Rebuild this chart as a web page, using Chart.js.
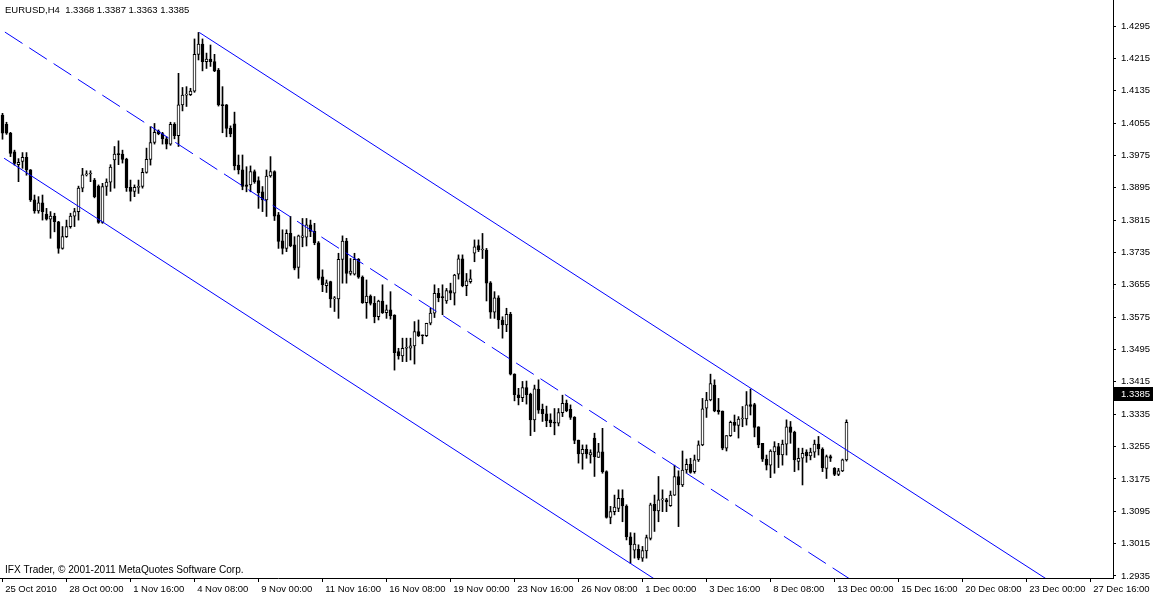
<!DOCTYPE html>
<html><head><meta charset="utf-8">
<script src="https://cdn.jsdelivr.net/npm/chart.js@4.4.0/dist/chart.umd.min.js"></script>
<style>
html,body{margin:0;padding:0;background:#fff;overflow:hidden}
canvas{display:block}
</style></head><body>
<canvas id="c" width="1153" height="596"></canvas>
<script>
const headerText = "EURUSD,H4  1.3368 1.3387 1.3363 1.3385";
const footerText = "IFX Trader, \u00A9 2001-2011 MetaQuotes Software Corp.";
const lastPrice = 1.3385;

const opens = [
1.4075,1.4052,1.4030,1.3984,1.3952,1.3960,1.3970,1.3939,1.3865,1.3838,
1.3858,1.3830,1.3817,1.3825,1.3811,1.3745,1.3774,1.3799,1.3825,1.3836,
1.3894,1.3927,1.3929,1.3914,1.3899,1.3809,1.3898,1.3909,1.3964,1.3978,
1.3978,1.3966,1.3896,1.3886,1.3896,1.3898,1.3933,1.3965,1.4007,1.4035,
1.4029,1.4016,1.4003,1.4052,1.4024,1.4100,1.4124,1.4125,1.4134,1.4225,
1.4250,1.4207,1.4213,1.4207,1.4186,1.4100,1.4100,1.4042,1.4053,1.3951,
1.3939,1.3902,1.3902,1.3935,1.3913,1.3885,1.3865,1.3924,1.3935,1.3828,
1.3764,1.3745,1.3782,1.3754,1.3698,1.3772,1.3773,1.3803,1.3787,1.3759,
1.3675,1.3653,1.3663,1.3620,1.3620,1.3718,1.3763,1.3683,1.3681,1.3718,
1.3674,1.3611,1.3627,1.3609,1.3576,1.3615,1.3586,1.3593,1.3580,1.3490,
1.3479,1.3498,1.3498,1.3504,1.3539,1.3531,1.3529,1.3560,1.3585,1.3634,
1.3626,1.3615,1.3641,1.3634,1.3681,1.3719,1.3653,1.3663,1.3733,1.3752,
1.3741,1.3741,1.3660,1.3587,1.3623,1.3568,1.3556,1.3582,1.3434,1.3383,
1.3376,1.3401,1.3384,1.3321,1.3397,1.3347,1.3336,1.3321,1.3314,1.3313,
1.3339,1.3362,1.3347,1.3327,1.3271,1.3237,1.3248,1.3234,1.3276,1.3228,
1.3242,1.3193,1.3080,1.3094,1.3102,1.3127,1.3108,1.3032,1.2999,1.3001,
1.2979,1.2997,1.3028,1.3112,1.3096,1.3123,1.3123,1.3109,1.3135,1.3181,
1.3160,1.3197,1.3211,1.3193,1.3222,1.3259,1.3350,1.3370,1.3407,1.3345,
1.3343,1.3251,1.3282,1.3315,1.3307,1.3323,1.3323,1.3359,1.3359,1.3304,
1.3263,1.3224,1.3209,1.3242,1.3255,1.3234,1.3261,1.3304,1.3290,1.3218,
1.3226,1.3241,1.3232,1.3241,1.3261,1.3249,1.3201,1.3230,1.3201,1.3186,
1.3195,1.3222];

const highs = [
1.4079,1.4057,1.4032,1.3988,1.3967,1.3982,1.3982,1.3940,1.3877,1.3873,
1.3877,1.3844,1.3836,1.3832,1.3812,1.3799,1.3815,1.3832,1.3844,1.3899,
1.3943,1.3937,1.3937,1.3918,1.3902,1.3906,1.3917,1.3952,1.3997,1.4011,
1.3988,1.3968,1.3914,1.3902,1.3914,1.3943,1.3993,1.4046,1.4054,1.4038,
1.4032,1.4021,1.4057,1.4056,1.4178,1.4143,1.4145,1.4141,1.4263,1.4279,
1.4263,1.4228,1.4248,1.4225,1.4190,1.4145,1.4101,1.4048,1.4082,1.3976,
1.3976,1.3947,1.3949,1.3939,1.3922,1.3898,1.3939,1.3972,1.3937,1.3834,
1.3791,1.3791,1.3824,1.3774,1.3778,1.3819,1.3819,1.3815,1.3807,1.3762,
1.3692,1.3667,1.3664,1.3626,1.3733,1.3776,1.3770,1.3720,1.3733,1.3720,
1.3677,1.3667,1.3630,1.3626,1.3617,1.3655,1.3605,1.3638,1.3581,1.3498,
1.3523,1.3523,1.3523,1.3564,1.3568,1.3531,1.3560,1.3597,1.3655,1.3646,
1.3655,1.3646,1.3659,1.3681,1.3729,1.3729,1.3683,1.3692,1.3766,1.3766,
1.3782,1.3745,1.3663,1.3638,1.3628,1.3576,1.3597,1.3587,1.3435,1.3399,
1.3416,1.3417,1.3387,1.3407,1.3420,1.3360,1.3355,1.3336,1.3349,1.3349,
1.3382,1.3370,1.3358,1.3329,1.3271,1.3259,1.3259,1.3247,1.3288,1.3263,
1.3300,1.3195,1.3107,1.3135,1.3148,1.3148,1.3111,1.3042,1.3041,1.3012,
1.3008,1.3036,1.3115,1.3135,1.3181,1.3148,1.3127,1.3145,1.3209,1.3195,
1.3244,1.3224,1.3226,1.3234,1.3269,1.3374,1.3389,1.3434,1.3420,1.3374,
1.3343,1.3282,1.3318,1.3333,1.3329,1.3354,1.3391,1.3397,1.3362,1.3304,
1.3263,1.3234,1.3247,1.3267,1.3263,1.3271,1.3321,1.3317,1.3293,1.3251,
1.3251,1.3247,1.3251,1.3271,1.3280,1.3252,1.3234,1.3234,1.3203,1.3201,
1.3224,1.3321];

const lows = [
1.4015,1.4027,1.3972,1.3951,1.3910,1.3943,1.3926,1.3861,1.3832,1.3832,
1.3815,1.3815,1.3770,1.3786,1.3733,1.3743,1.3772,1.3795,1.3799,1.3815,
1.3885,1.3924,1.3910,1.3870,1.3807,1.3807,1.3876,1.3886,1.3894,1.3952,
1.3956,1.3886,1.3862,1.3873,1.3881,1.3894,1.3931,1.3951,1.4003,1.4026,
1.4003,1.3991,1.4000,1.4016,1.3997,1.4085,1.4096,1.4123,1.4131,1.4211,
1.4184,1.4190,1.4195,1.4182,1.4097,1.4031,1.4021,1.4021,1.3939,1.3929,
1.3890,1.3885,1.3885,1.3906,1.3844,1.3836,1.3824,1.3921,1.3814,1.3745,
1.3731,1.3737,1.3749,1.3692,1.3671,1.3749,1.3751,1.3774,1.3754,1.3667,
1.3638,1.3636,1.3599,1.3589,1.3572,1.3659,1.3659,1.3679,1.3679,1.3671,
1.3609,1.3572,1.3605,1.3561,1.3568,1.3584,1.3572,1.3570,1.3444,1.3471,
1.3465,1.3465,1.3469,1.3459,1.3527,1.3509,1.3527,1.3556,1.3574,1.3613,
1.3581,1.3609,1.3618,1.3605,1.3669,1.3650,1.3628,1.3659,1.3712,1.3737,
1.3720,1.3615,1.3572,1.3572,1.3547,1.3523,1.3539,1.3432,1.3368,1.3358,
1.3366,1.3360,1.3282,1.3292,1.3337,1.3317,1.3304,1.3304,1.3284,1.3306,
1.3329,1.3341,1.3322,1.3262,1.3214,1.3199,1.3226,1.3214,1.3181,1.3228,
1.3189,1.3078,1.3064,1.3086,1.3094,1.3069,1.3024,1.2966,1.2979,1.2975,
1.2971,1.2979,1.3024,1.3045,1.3069,1.3094,1.3094,1.3107,1.3134,1.3057,
1.3156,1.3189,1.3189,1.3189,1.3218,1.3257,1.3327,1.3368,1.3341,1.3335,
1.3247,1.3244,1.3280,1.3292,1.3276,1.3304,1.3308,1.3333,1.3279,1.3252,
1.3218,1.3197,1.3178,1.3189,1.3203,1.3209,1.3234,1.3263,1.3193,1.3197,
1.3160,1.3216,1.3222,1.3228,1.3234,1.3193,1.3176,1.3218,1.3183,1.3183,
1.3193,1.3219];

const closes = [
1.4030,1.4030,1.3980,1.3955,1.3958,1.3970,1.3939,1.3865,1.3838,1.3858,
1.3836,1.3817,1.3825,1.3811,1.3745,1.3774,1.3799,1.3825,1.3836,1.3894,
1.3927,1.3929,1.3930,1.3873,1.3809,1.3898,1.3909,1.3946,1.3978,1.3977,
1.3965,1.3895,1.3886,1.3896,1.3897,1.3933,1.3965,1.4007,1.4032,1.4029,
1.4016,1.4003,1.4052,1.4024,1.4100,1.4124,1.4125,1.4134,1.4225,1.4250,
1.4207,1.4213,1.4207,1.4184,1.4100,1.4098,1.4042,1.4028,1.3949,1.3939,
1.3898,1.3898,1.3935,1.3910,1.3883,1.3865,1.3924,1.3935,1.3825,1.3762,
1.3745,1.3782,1.3751,1.3696,1.3776,1.3776,1.3803,1.3787,1.3759,1.3671,
1.3655,1.3660,1.3620,1.3620,1.3718,1.3763,1.3683,1.3689,1.3718,1.3674,
1.3611,1.3627,1.3609,1.3576,1.3615,1.3586,1.3593,1.3578,1.3487,1.3479,
1.3498,1.3498,1.3504,1.3539,1.3529,1.3529,1.3560,1.3585,1.3634,1.3623,
1.3623,1.3641,1.3634,1.3679,1.3719,1.3653,1.3665,1.3670,1.3749,1.3741,
1.3741,1.3659,1.3587,1.3623,1.3568,1.3556,1.3582,1.3434,1.3383,1.3376,
1.3401,1.3383,1.3321,1.3398,1.3345,1.3336,1.3319,1.3314,1.3313,1.3339,
1.3362,1.3344,1.3327,1.3270,1.3237,1.3248,1.3237,1.3240,1.3230,1.3242,
1.3193,1.3080,1.3094,1.3105,1.3127,1.3108,1.3032,1.3012,1.3014,1.2979,
1.2998,1.3030,1.3111,1.3096,1.3123,1.3123,1.3118,1.3135,1.3181,1.3160,
1.3197,1.3211,1.3191,1.3222,1.3259,1.3348,1.3370,1.3411,1.3343,1.3341,
1.3251,1.3282,1.3315,1.3307,1.3323,1.3325,1.3358,1.3354,1.3302,1.3259,
1.3224,1.3209,1.3244,1.3255,1.3234,1.3261,1.3304,1.3290,1.3222,1.3226,
1.3238,1.3232,1.3241,1.3261,1.3249,1.3203,1.3230,1.3226,1.3186,1.3195,
1.3222,1.3315];

const timeLabels = ["25 Oct 2010","28 Oct 00:00","1 Nov 16:00","4 Nov 08:00","9 Nov 00:00",
"11 Nov 16:00","16 Nov 08:00","19 Nov 00:00","23 Nov 16:00","26 Nov 08:00","1 Dec 00:00",
"3 Dec 16:00","8 Dec 08:00","13 Dec 00:00","15 Dec 16:00","20 Dec 08:00","23 Dec 00:00","27 Dec 16:00"];
const timeLabelBars = [0,16,32,48,64,80,96,112,128,144,160,176,192,208,224,240,256,272];

const priceTicks = [1.4295,1.4215,1.4135,1.4055,1.3975,1.3895,1.3815,1.3735,1.3655,
1.3575,1.3495,1.3415,1.3335,1.3255,1.3175,1.3095,1.3015,1.2935];

// trend lines: [bar index, price]
const channelUpper = [[49.2,1.4279],[262,1.2921]];
const channelMiddle = [[0.6,1.4280],[213,1.2920]];
const channelLower = [[0.4,1.3968],[164,1.2921]];

const FONT = "'Liberation Sans', Arial, sans-serif";
const FS = 9.5;
Chart.defaults.font.family = FONT;
Chart.defaults.font.size = FS;
Chart.defaults.color = '#000';
Chart.defaults.animation = false;

const bodyData = opens.map((o,i)=>({x:i, y:[o, closes[i]]}));
const wickData = highs.map((h,i)=>({x:i, y:[lows[i], h]}));
const bodyFill = opens.map((o,i)=> closes[i] >= o ? '#ffffff' : '#000000');
const toPts = a => a.map(p=>({x:p[0], y:p[1]}));

const textPlugin = {
  id:'mtText',
  afterDraw(chart){
    const c = chart.ctx, ys = chart.scales.y, ca = chart.chartArea;
    c.save();
    c.textBaseline = 'middle';
    c.fillStyle = '#000';
    c.textAlign = 'left';
    c.font = FS + "px " + FONT;
    c.fillText(headerText, 5, 10);
    c.font = "10.1px " + FONT;
    c.fillText(footerText, 5, 570);
    c.font = FS + "px " + FONT;
    const py = Math.round(ys.getPixelForValue(lastPrice));
    c.fillStyle = '#000';
    c.fillRect(ca.right + 1, py - 7, chart.width - ca.right - 1, 14);
    c.fillStyle = '#fff';
    c.fillText(lastPrice.toFixed(4), ca.right + 8, py);
    c.restore();
  }
};

new Chart(document.getElementById('c'), {
  type:'bar',
  data:{ datasets:[
    {type:'line', data:toPts(channelUpper), borderColor:'#0000ff', borderWidth:1, pointRadius:0, order:0},
    {type:'line', data:toPts(channelMiddle), borderColor:'#0000ff', borderWidth:1, pointRadius:0, borderDash:[21,8], order:0},
    {type:'line', data:toPts(channelLower), borderColor:'#0000ff', borderWidth:1, pointRadius:0, order:0},
    {data:bodyData, backgroundColor:bodyFill, borderColor:'#000', borderWidth:1, borderSkipped:false,
     barThickness:3, minBarLength:1, grouped:false, order:1},
    {data:wickData, backgroundColor:'#000', borderWidth:0, barThickness:1, grouped:false, order:2}
  ]},
  options:{
    responsive:false, maintainAspectRatio:false, devicePixelRatio:1,
    layout:{padding:0},
    plugins:{legend:{display:false}, tooltip:{enabled:false}},
    scales:{
      x:{ type:'linear', min:-0.625, max:277.625, offset:false,
        afterBuildTicks: s => { s.ticks = timeLabelBars.map(v=>({value:v})); },
        afterFit: s => { s.height = 18; s.paddingLeft = 0; s.paddingRight = 0; },
        ticks:{ align:'start', maxRotation:0, autoSkip:false, padding:2,
          callback:(v,i)=> ' ' + timeLabels[i] },
        grid:{ drawOnChartArea:false, drawTicks:true, tickLength:4, color:'#000', offset:false },
        border:{ display:true, color:'#000' }
      },
      y:{ position:'right', min:1.29299, max:1.43593,
        afterBuildTicks: s => { s.ticks = priceTicks.map(v=>({value:v})); },
        afterFit: s => { s.width = 40; s.paddingTop = 0; s.paddingBottom = 0; },
        ticks:{ padding:5, autoSkip:false, callback:v=>Number(v).toFixed(4) },
        grid:{ drawOnChartArea:false, drawTicks:true, tickLength:3, color:'#000' },
        border:{ display:true, color:'#000' }
      }
    }
  },
  plugins:[textPlugin]
});
</script>
</body></html>
